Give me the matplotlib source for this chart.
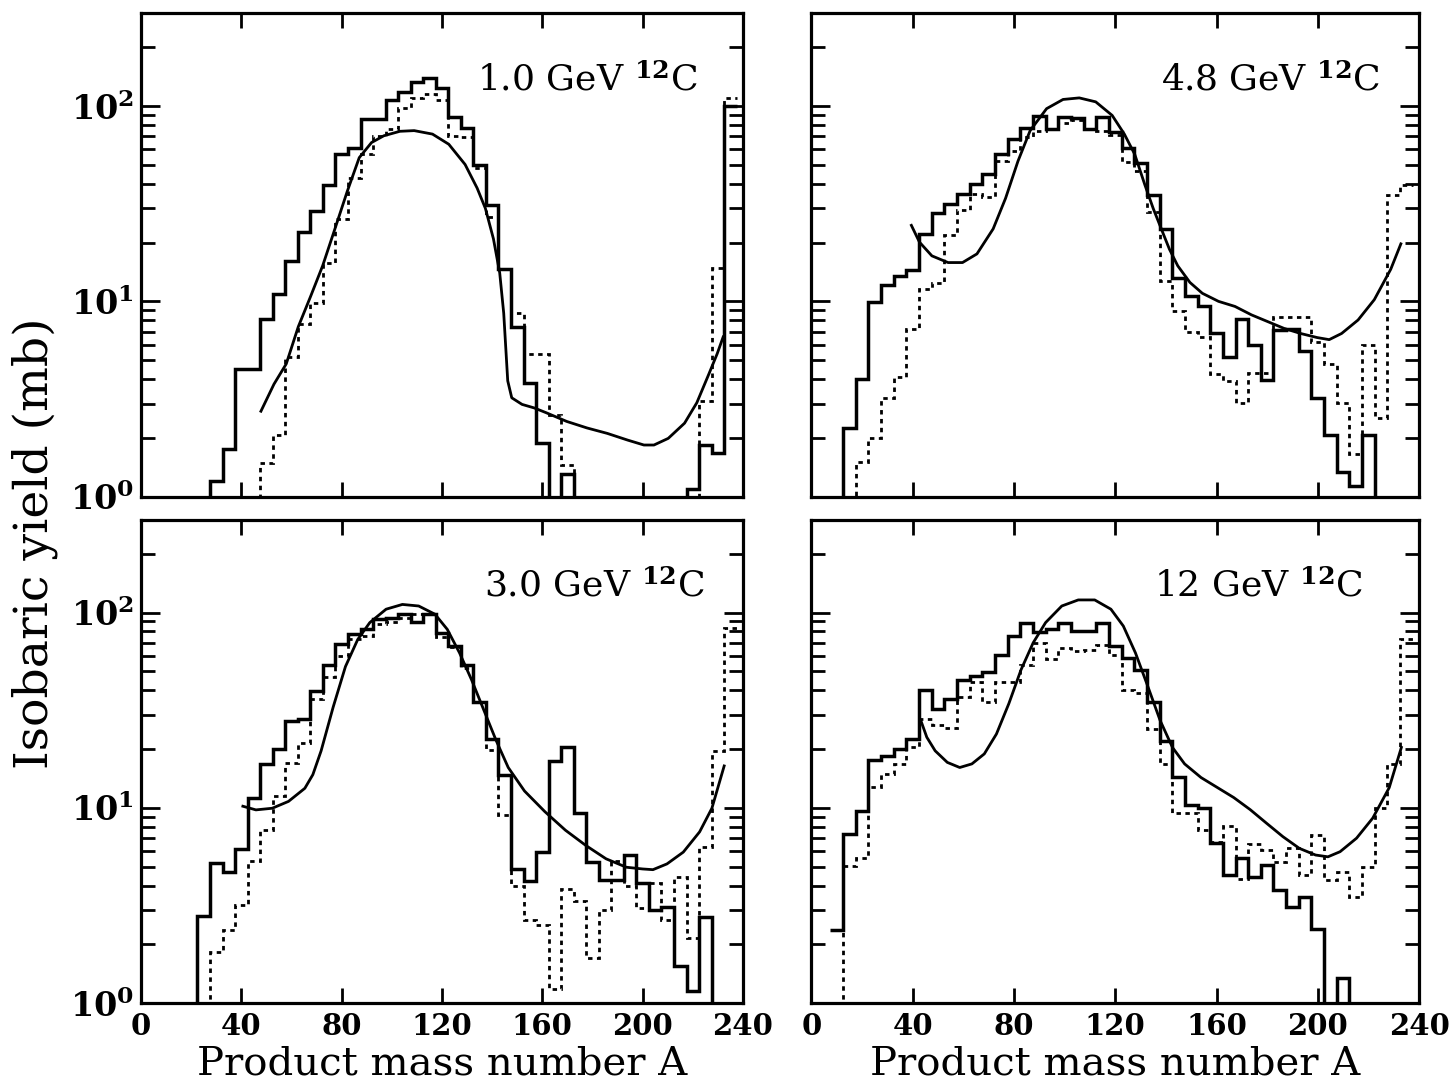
import numpy as np
import matplotlib.pyplot as plt

plt.rcParams['font.family'] = 'DejaVu Serif'
plt.rcParams['mathtext.fontset'] = 'dejavuserif'

# bins of 5 mass units, centred on A = 10, 15, ..., 235
vores = np.arange(7.5, 240, 5)

# 1.0 GeV 12C
solid_1gev = [0, 0, 0, 0, 1.2, 1.75, 4.5, 4.5, 8.1, 10.9, 16.1, 22.6, 29.1, 39.2, 56.6, 60.8,
              85.3, 85.3, 107, 118, 133, 139, 123, 87.7, 77.2, 49.6, 31.1, 14.6, 7.42, 3.81, 1.89,
              0, 1.3, 0, 0, 0, 0, 0, 0, 0, 0, 0, 1.1, 1.85, 1.67, 100]
dotted_1gev = [0, 0, 0, 0, 0, 0, 0, 0, 1.48, 2.06, 5.18, 7.7, 9.8, 15.8, 26.5, 42.8,
               56.6, 70.4, 76.3, 98, 110, 115, 107, 70.4, 69, 48.2, 27.1, 14.6, 8.7, 5.4, 5.4,
               2.63, 1.45, 0, 0, 0, 0, 0, 0, 0, 0, 0, 0, 3.1, 14.9, 110]
curve_a_1gev = [47.8, 53.0, 57.9, 62.7, 67.6, 72.4, 77.3, 82.2, 87.0, 91.9, 96.8, 103.2, 108.9,
                116.2, 122.7, 129.2, 134.0, 137.3, 140.5, 143.0, 144.6, 146.2, 147.8, 151.9,
                156.7, 161.6, 169.7, 177.8, 185.9, 194.0, 200.5, 204.5, 210.2, 216.7, 221.6,
                226.4, 229.7, 232.1]
curve_y_1gev = [2.74, 3.77, 4.79, 7.42, 10.6, 15.2, 23.5, 36.5, 54.4, 65.0, 70.4, 74.2, 74.8,
                71.8, 63.7, 50.2, 38.0, 29.9, 20.9, 14.0, 8.7, 3.92, 3.21, 2.97,
                2.85, 2.69, 2.43, 2.25, 2.11, 1.95, 1.84, 1.84, 1.99, 2.38, 3.03,
                4.25, 5.39, 6.58]

# 4.8 GeV 12C
solid_48gev = [0, 2.26, 4.0, 9.9, 12.1, 13.5, 14.5, 22.2, 28.2, 31.4, 35.3, 39.8, 44.9, 57.0, 67.7,
               77.2, 88.4, 76.3, 87.7, 86.9, 76.3, 87.7, 73.3, 61.2, 51.2, 35.1, 23.5, 13.2, 10.6,
               9.5, 6.85, 5.18, 8.1, 5.96, 3.95, 7.1, 7.2, 5.6, 3.21, 2.07, 1.34, 1.14, 2.07,
               0, 0, 0]
dotted_48gev = [0, 0, 1.51, 2.01, 3.21, 4.08, 7.2, 11.6, 12.4, 21.8, 29.3, 35.3, 34.4, 52.2, 58.9,
                69.6, 74.8, 76.3, 81.6, 84.9, 76.3, 74.8, 71.3, 51.8, 46.4, 28.7, 12.7, 8.9, 6.99,
                6.58, 4.25, 3.92, 3.03, 4.28, 4.28, 8.36, 8.36, 8.36, 6.2, 4.79, 3.03, 1.66, 5.96,
                2.53, 35.1, 39.5]
curve_a_48gev = [39.5, 42.7, 47.6, 54.0, 59.7, 65.4, 71.8, 76.7, 81.6, 86.4, 92.9, 99.4, 105.8,
                 112.3, 118.8, 123.6, 127.7, 131.7, 135.0, 138.2, 141.4, 144.7, 149.5, 154.4,
                 160.8, 167.3, 173.8, 180.3, 186.7, 193.2, 199.7, 204.5, 209.4, 215.9, 222.3,
                 228.8, 232.8]
curve_y_48gev = [24.5, 20.1, 17.1, 15.8, 15.8, 17.5, 23.5, 33.7, 52.2, 74.8, 96.9, 108, 110,
                 105, 89.5, 71.8, 56.6, 39.5, 29.9, 23.5, 18.5, 15.2, 12.5, 11.0,
                 10.0, 9.42, 8.53, 7.87, 7.27, 6.85, 6.53, 6.37, 6.85, 8.03, 10.2,
                 14.6, 19.7]

# 3.0 GeV 12C
solid_3gev = [0, 0, 0, 2.79, 5.21, 4.72, 6.18, 11.2, 16.7, 20.0, 28.0, 28.6, 39.7, 53.6, 69.4,
              77.9, 82.0, 92.3, 94.2, 98, 89.5, 98, 78.8, 67.7, 54.0, 34.9, 22.5, 14.8, 4.87,
              4.24, 5.94, 17.4, 20.4, 9.38, 5.27, 4.27, 4.27, 5.75, 4.15, 3.0, 3.12, 1.55, 1.15,
              2.77, 0, 0]
dotted_3gev = [0, 0, 0, 0, 1.84, 2.38, 3.17, 5.38, 7.69, 11.5, 17.0, 21.4, 36.3, 47.0, 60.1,
               72.8, 75.7, 87.0, 89.5, 94.2, 98, 98, 75.1, 66.9, 51.9, 34.9, 19.7, 9.2, 3.99,
               2.68, 2.53, 1.19, 3.84, 3.34, 1.70, 3.02, 5.38, 3.99, 3.08, 4.15, 2.68, 4.41, 2.15,
               6.3, 19.6, 83.6]
curve_a_3gev = [40.6, 45.8, 52.3, 58.8, 65.3, 68.5, 71.8, 76.6, 81.5, 86.4, 91.2, 97.7, 104.2,
                110.7, 117.2, 122.1, 127.0, 131.8, 136.7, 141.6, 146.4, 152.9, 161.0, 169.2,
                177.3, 185.4, 193.5, 200.0, 204.1, 209.7, 216.2, 222.7, 227.6, 232.5]
curve_y_3gev = [10.2, 9.77, 9.96, 10.8, 12.6, 14.8, 19.6, 32.8, 52.9, 72.8, 88.8, 104, 110,
                108, 98, 82, 62.1, 45.2, 31.6, 22.1, 16.1, 12.2, 9.57, 7.69,
                6.43, 5.49, 4.97, 4.87, 4.83, 5.17, 5.94, 7.54, 9.96, 16.4]

# 12 GeV 12C
solid_12gev = [2.38, 7.34, 9.69, 17.6, 18.5, 20.0, 22.6, 40.1, 31.9, 36.3, 45.2, 47.4, 49.9, 60.9,
               75.7, 88.8, 79.4, 82.0, 88.1, 80.4, 80.4, 88.0, 67.8, 58.5, 50.9, 34.9, 22.1, 14.4,
               10.4, 10.0, 6.59, 4.52, 5.51, 4.43, 5.13, 3.78, 3.10, 3.49, 2.4, 0, 1.35, 0, 0,
               0, 0, 0]
dotted_12gev = [0, 5.05, 5.56, 12.8, 15.0, 16.8, 20.4, 28.6, 26.5, 25.6, 37.1, 44.3, 34.9, 44.3,
                44.3, 54.0, 70.0, 57.8, 65.9, 63.4, 64.5, 68.6, 60.9, 40.1, 38.6, 25.4, 16.8, 9.42,
                9.42, 7.72, 6.72, 8.04, 4.35, 6.51, 6.09, 5.3, 6.21, 4.52, 7.28, 4.26, 4.7, 3.49,
                4.99, 10, 16.8, 72.8]
curve_a_12gev = [43.2, 45.6, 48.9, 53.7, 58.6, 63.4, 68.3, 73.1, 78.0, 82.8, 87.6, 92.5, 98.9,
                 105.4, 111.9, 118.3, 123.2, 128.0, 132.9, 137.7, 142.6, 147.4, 153.9, 160.4,
                 166.8, 173.3, 179.7, 186.2, 192.7, 199.1, 204.0, 208.8, 215.3, 221.7, 228.2,
                 233.0]
curve_y_12gev = [28.1, 23.0, 19.6, 17.1, 16.1, 16.8, 18.9, 23.9, 34.2, 50.9, 70.0, 88.8, 108,
                 116, 116, 104, 85.3, 62.1, 41.8, 28.1, 20.4, 16.8, 14.3, 12.7,
                 11.3, 9.8, 8.36, 7.13, 6.21, 5.74, 5.62, 5.97, 7.0, 8.87, 12.7,
                 20.4]


def dibuixar_panell(ax, solid, dotted, ca, cy, etiqueta, pos_x, esquerra, baix):
    """Un panell: dos histogrames (ple i puntejat) i la corba calculada."""
    # buits -> molt petit perque la linia baixi fins a l'eix
    s = np.array(solid, float)
    s[s <= 0] = 1e-3
    d = np.array(dotted, float)
    d[d <= 0] = 1e-3
    ax.stairs(s, vores, baseline=None, color='k', lw=2.5)
    ax.stairs(d, vores, baseline=None, color='k', lw=2.0, ls=(0, (1.6, 1.6)))
    ax.plot(ca, cy, color='k', lw=2.0, solid_joinstyle='round')

    ax.set_yscale('log')
    ax.set_xlim(0, 240)
    ax.set_ylim(1, 299)
    ax.set_xticks([0, 40, 80, 120, 160, 200, 240])
    ax.set_yticks([1, 10, 100])
    ax.tick_params(which='both', direction='in', top=True, right=True, width=2.0)
    ax.tick_params(axis='y', which='major', length=14)
    ax.tick_params(axis='y', which='minor', length=10)
    ax.tick_params(axis='x', which='major', length=11)
    for sp in ax.spines.values():
        sp.set_linewidth(2.3)

    if esquerra:
        ax.set_yticklabels([r'$\mathbf{10^{0}}$', r'$\mathbf{10^{1}}$', r'$\mathbf{10^{2}}$'],
                           fontsize=24)
    else:
        ax.set_yticklabels([])
    if baix:
        ax.set_xticklabels(['0', '40', '80', '120', '160', '200', '240'],
                           fontsize=21, fontweight='bold')
    else:
        ax.set_xticklabels([])
    ax.tick_params(axis='x', which='major', pad=6)
    ax.tick_params(axis='y', which='major', pad=5)

    ax.text(pos_x, 0.862, etiqueta, transform=ax.transAxes, ha='right', va='center',
            fontsize=26)


fig = plt.figure(figsize=(14.54, 10.87), dpi=100)
ax1 = fig.add_axes([0.097, 0.543, 0.414, 0.445])
ax2 = fig.add_axes([0.558, 0.543, 0.418, 0.445])
ax3 = fig.add_axes([0.097, 0.077, 0.414, 0.445])
ax4 = fig.add_axes([0.558, 0.077, 0.418, 0.445])

dibuixar_panell(ax1, solid_1gev, dotted_1gev, curve_a_1gev, curve_y_1gev,
                r'1.0 GeV $^{\mathbf{12}}$C', 0.924, True, False)
dibuixar_panell(ax2, solid_48gev, dotted_48gev, curve_a_48gev, curve_y_48gev,
                r'4.8 GeV $^{\mathbf{12}}$C', 0.936, False, False)
dibuixar_panell(ax3, solid_3gev, dotted_3gev, curve_a_3gev, curve_y_3gev,
                r'3.0 GeV $^{\mathbf{12}}$C', 0.937, True, True)
dibuixar_panell(ax4, solid_12gev, dotted_12gev, curve_a_12gev, curve_y_12gev,
                r'12 GeV $^{\mathbf{12}}$C', 0.908, False, True)

fig.text(0.024, 0.5, 'Isobaric yield (mb)', rotation=90, ha='center', va='center', fontsize=34)
fig.text(0.304, 0.021, 'Product mass number A', ha='center', va='center', fontsize=29)
fig.text(0.767, 0.021, 'Product mass number A', ha='center', va='center', fontsize=29)

fig.savefig('out.png', dpi=100)
